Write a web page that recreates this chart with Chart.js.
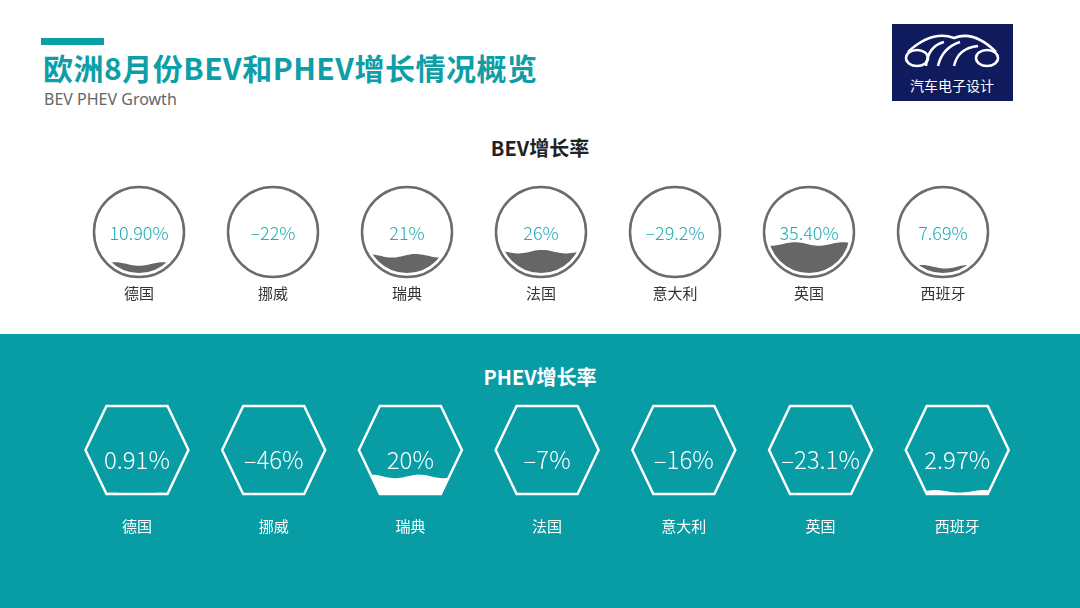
<!DOCTYPE html>
<html>
<head>
<meta charset="utf-8">
<script src="https://cdn.jsdelivr.net/npm/chart.js@4.4.0/dist/chart.umd.min.js"></script>
<style>
  body { margin: 0; width: 1080px; height: 608px; overflow: hidden; position: relative; background: #fff;
         font-family: "Noto Sans CJK SC", "Noto Sans", sans-serif; }
  .abs { position: absolute; }
  #bar { left: 41px; top: 38px; width: 63px; height: 7px; background: #0a9ea7; }
  #title { left: 43px; top: 47px; font-size: 30px; font-weight: 700; color: #0d9ea7; line-height: 40px; white-space: nowrap; letter-spacing: 0.5px; }
  #sub { left: 44px; top: 88px; font-size: 16px; color: #666; line-height: 22px; font-family: "Noto Sans", sans-serif; }
  #teal { left: 0; top: 334px; width: 1080px; height: 274px; background: #089ca5; }
  .sec { width: 1080px; left: 0; text-align: center; font-size: 20px; font-weight: 700; line-height: 28px; }
  #bevTitle { top: 134px; color: #222; }
  #phevTitle { top: 363px; color: #fff; }
  #bevWrap { left: 0; top: 170px; width: 1080px; height: 133px; }
  #phevWrap { left: 0; top: 390px; width: 1080px; height: 150px; }
</style>
</head>
<body>
<div class="abs" id="bar"></div>
<div class="abs" id="title">欧洲8月份BEV和PHEV增长情况概览</div>
<div class="abs" id="sub">BEV PHEV Growth</div>
<svg class="abs" style="left:892px;top:24px" width="121" height="77" viewBox="0 0 121 77">
  <rect width="121" height="77" fill="#101b5e"/>
  <g fill="none" stroke="#fff" stroke-width="2.5">
    <ellipse cx="25" cy="34" rx="11" ry="8"/>
    <ellipse cx="95" cy="34" rx="11" ry="8"/>
    <path d="M16 28 Q40 6 62 14 Q82 6 104 28"/>
    <path d="M34 42 Q36 22 52 18"/>
    <path d="M46 42 Q50 24 68 18"/>
    <path d="M62 42 Q66 24 86 22"/>
  </g>
  <text x="60" y="67" fill="#fff" font-size="14" text-anchor="middle" font-family="Noto Sans CJK SC">汽车电子设计</text>
</svg>
<div class="abs sec" id="bevTitle">BEV增长率</div>
<div class="abs" id="teal"></div>
<div class="abs sec" id="phevTitle">PHEV增长率</div>
<div class="abs" id="bevWrap"><canvas id="bevChart"></canvas></div>
<div class="abs" id="phevWrap"><canvas id="phevChart"></canvas></div>

<script>
// countries shown under each row
var countries = ["德国", "挪威", "瑞典", "法国", "意大利", "英国", "西班牙"];

// BEV growth rate (%)
var bevValues = [10.9, -22, 21, 26, -29.2, 35.4, 7.69];
var bevText = ["10.90%", "–22%", "21%", "26%", "–29.2%", "35.40%", "7.69%"];

// PHEV growth rate (%)
var phevValues = [0.91, -46, 20, -7, -16, -23.1, 2.97];
var phevText = ["0.91%", "–46%", "20%", "–7%", "–16%", "–23.1%", "2.97%"];

// draws the outline shape (circle or hexagon) around each bar and fills it with a wave up to the bar top
const gaugePlugin = {
  id: "gauge",
  afterDatasetsDraw(chart, args, opts) {
    const ctx = chart.ctx;
    const yScale = chart.scales.y;
    const top = yScale.getPixelForValue(100);
    const bottom = yScale.getPixelForValue(0);
    const cy = (top + bottom) / 2;
    const half = (bottom - top) / 2;
    const meta = chart.getDatasetMeta(0);
    const values = chart.data.datasets[0].data;

    meta.data.forEach((bar, i) => {
      const cx = bar.x;
      // shape path
      const shape = () => {
        ctx.beginPath();
        if (opts.shape === "circle") {
          ctx.arc(cx, cy, half, 0, Math.PI * 2);
        } else {
          ctx.moveTo(cx - opts.hexHalfWidth, cy);
          ctx.lineTo(cx - opts.hexTopHalf, top);
          ctx.lineTo(cx + opts.hexTopHalf, top);
          ctx.lineTo(cx + opts.hexHalfWidth, cy);
          ctx.lineTo(cx + opts.hexTopHalf, bottom);
          ctx.lineTo(cx - opts.hexTopHalf, bottom);
          ctx.closePath();
        }
      };

      // wave fill
      if (values[i] > 0) {
        const level = bar.y;
        const amp = Math.min(1.8, (bottom - level) / 2);
        ctx.save();
        shape();
        ctx.clip();
        ctx.beginPath();
        const x0 = cx - 60, x1 = cx + 60;
        ctx.moveTo(x0, bottom + 5);
        for (let x = x0; x <= x1; x += 2) {
          ctx.lineTo(x, level + amp * Math.sin((x - x0) / 48 * Math.PI * 2 + i));
        }
        ctx.lineTo(x1, bottom + 5);
        ctx.closePath();
        ctx.fillStyle = opts.fill;
        ctx.fill();
        ctx.restore();
      }

      // outline
      ctx.save();
      ctx.lineWidth = opts.lineWidth;
      ctx.strokeStyle = opts.stroke;
      if (opts.shape === "circle") {
        ctx.beginPath();
        ctx.arc(cx, cy, half + 4, 0, Math.PI * 2);
      } else {
        shape();
      }
      ctx.stroke();

      // value text
      ctx.fillStyle = opts.textColor;
      ctx.font = opts.font;
      ctx.textAlign = "center";
      ctx.textBaseline = "middle";
      ctx.fillText(opts.texts[i], cx, cy + opts.textOffset);
      ctx.restore();
    });
  }
};

function makeChart(id, values, opts, pad, labelColor, tickPad, axisHeight) {
  return new Chart(document.getElementById(id), {
    type: "bar",
    data: {
      labels: countries,
      datasets: [{
        data: values,
        backgroundColor: "rgba(0,0,0,0)",
        borderWidth: 0
      }]
    },
    options: {
      responsive: true,
      maintainAspectRatio: false,
      animation: false,
      layout: { padding: pad },
      plugins: {
        legend: { display: false },
        tooltip: { enabled: false },
        gauge: opts
      },
      scales: {
        y: { display: false, min: 0, max: 100 },
        x: {
          grid: { display: false, drawTicks: false },
          border: { display: false },
          afterFit: (scale) => { scale.height = axisHeight; },
          ticks: {
            color: labelColor,
            padding: tickPad,
            font: { size: 15, family: "'Noto Sans CJK SC', sans-serif" }
          }
        }
      }
    },
    plugins: [gaugePlugin]
  });
}

makeChart("bevChart", bevValues, {
  shape: "circle",
  fill: "#666666",
  stroke: "#6b6b6b",
  lineWidth: 2.5,
  textColor: "#22acb7",
  font: "300 18px 'Noto Sans CJK SC', 'Noto Sans', sans-serif",
  texts: bevText,
  textOffset: 1
}, { top: 21, bottom: 0, left: 72, right: 70 }, "#333", 11, 30);

makeChart("phevChart", phevValues, {
  shape: "hex",
  hexHalfWidth: 51.5,
  hexTopHalf: 30.5,
  fill: "#ffffff",
  stroke: "#ffffff",
  lineWidth: 2.5,
  textColor: "#ffffff",
  font: "300 24px 'Noto Sans CJK SC', 'Noto Sans', sans-serif",
  texts: phevText,
  textOffset: 10
}, { top: 16, bottom: 0, left: 68.6, right: 54.4 }, "#fff", 23, 46);
</script>
</body>
</html>
